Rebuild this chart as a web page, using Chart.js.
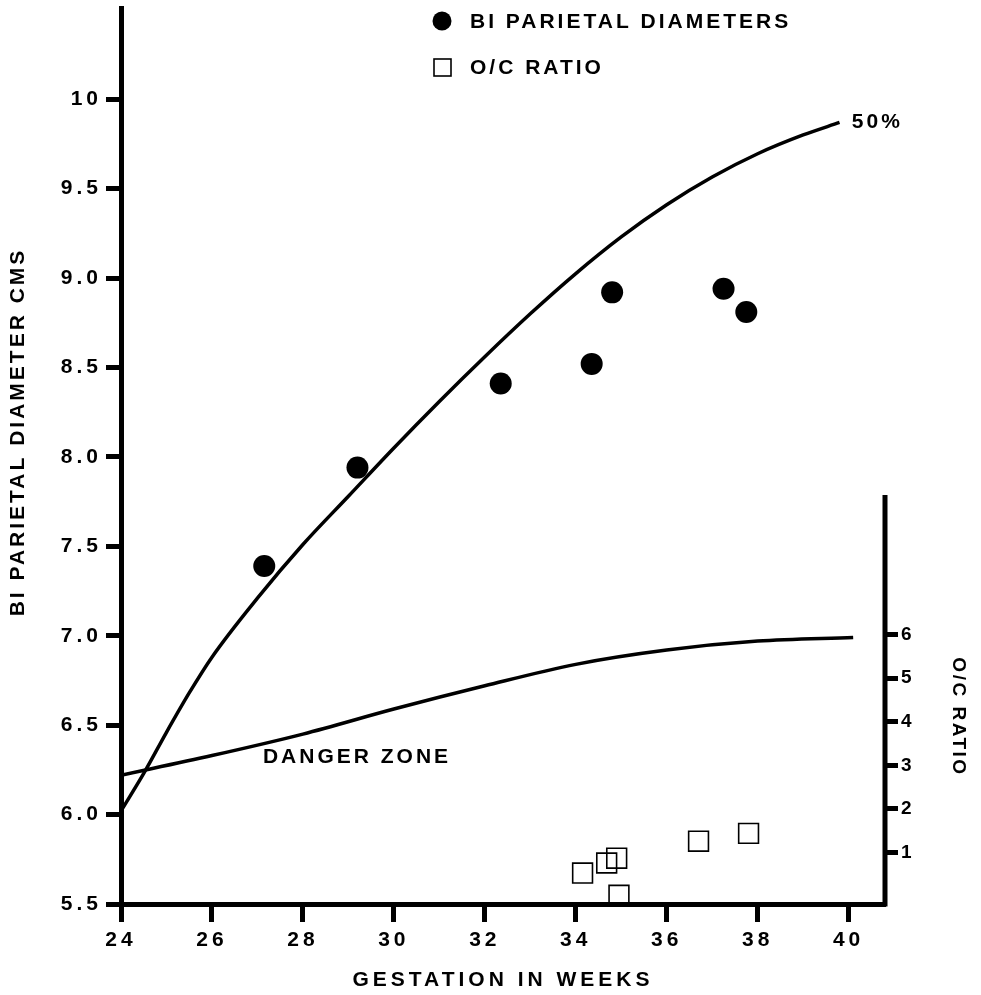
<!DOCTYPE html>
<html>
<head>
<meta charset="utf-8">
<script src="https://cdn.jsdelivr.net/npm/chart.js@4.4.1/dist/chart.umd.min.js"></script>
<style>
  html, body { margin: 0; padding: 0; background: #fff; }
  #wrap { width: 981px; height: 995px; }
</style>
</head>
<body>
<div id="wrap"><canvas id="chart"></canvas></div>
<script>
// tick labels
const xTicks = [24, 26, 28, 30, 32, 34, 36, 38, 40];
const yTicks = [5.5, 6.0, 6.5, 7.0, 7.5, 8.0, 8.5, 9.0, 9.5, 10];
const ocTicks = [1, 2, 3, 4, 5, 6];

// 50% bi parietal diameter curve
const curveWeeks = [24, 24.5, 25, 25.5, 26, 27, 28, 29, 30, 31, 32, 33, 34, 35, 36, 37, 38, 39, 39.8];
const curveBpd = [6.02, 6.23, 6.46, 6.68, 6.88, 7.21, 7.51, 7.78, 8.05, 8.31, 8.56, 8.80, 9.025, 9.23, 9.41, 9.565, 9.695, 9.80, 9.87];

// danger zone line
const dangerWeeks = [24, 26, 28, 30, 32, 34, 36, 38, 40.1];
const dangerBpd = [6.22, 6.33, 6.45, 6.59, 6.72, 6.84, 6.92, 6.97, 6.99];

// measured bi parietal diameters
const bpdWeeks = [27.15, 29.2, 32.35, 34.35, 34.8, 37.25, 37.75];
const bpdValues = [7.39, 7.94, 8.41, 8.52, 8.92, 8.94, 8.81];

// O/C ratio
const ocWeeks = [34.15, 34.68, 34.9, 34.95, 36.7, 37.8];
const ocValues = [0.53, 0.76, 0.87, 0.02, 1.26, 1.44];

const FONT = '"Liberation Sans", Arial, sans-serif';
const pts = (xs, ys) => xs.map((x, i) => ({ x: x, y: ys[i] }));
const fixTicks = list => scale => { scale.ticks = list.map(v => ({ value: v })); };

const extras = {
  id: 'extras',
  beforeDraw(chart) {
    chart.ctx.letterSpacing = '4px';
  },
  afterDraw(chart) {
    const { ctx, chartArea, scales } = chart;
    const { x, y, y2 } = scales;
    ctx.save();
    // short right hand O/C axis
    ctx.strokeStyle = '#000';
    ctx.lineWidth = 5;
    ctx.beginPath();
    ctx.moveTo(chartArea.right, chartArea.bottom + 2.5);
    ctx.lineTo(chartArea.right, y2.getPixelForValue(9.2));
    ctx.stroke();

    ctx.fillStyle = '#000';
    ctx.font = 'bold 21px ' + FONT;
    ctx.letterSpacing = '3px';
    ctx.textBaseline = 'middle';
    ctx.textAlign = 'left';
    ctx.fillText('50%', x.getPixelForValue(40.07), y.getPixelForValue(9.87));
    ctx.fillText('DANGER ZONE', x.getPixelForValue(27.12), y.getPixelForValue(6.32));

    // legend
    ctx.beginPath();
    ctx.arc(442, 21, 9.5, 0, Math.PI * 2);
    ctx.fill();
    ctx.fillText(chart.data.datasets[0].label, 470, 22);
    ctx.lineWidth = 1.6;
    ctx.strokeRect(434, 59, 17, 17);
    ctx.fillText(chart.data.datasets[1].label, 470, 68);

    // axis titles
    ctx.save();
    ctx.translate(18, 432);
    ctx.rotate(-Math.PI / 2);
    ctx.textAlign = 'center';
    ctx.fillText('BI PARIETAL DIAMETER CMS', 0, 0);
    ctx.restore();

    ctx.save();
    ctx.font = 'bold 19px ' + FONT;
    ctx.letterSpacing = '2.5px';
    ctx.translate(958, 717);
    ctx.rotate(Math.PI / 2);
    ctx.textAlign = 'center';
    ctx.fillText('O/C RATIO', 0, 0);
    ctx.restore();

    ctx.restore();
  }
};

const noPadV = s => { s.paddingTop = 0; s.paddingBottom = 0; };

new Chart(document.getElementById('chart'), {
  type: 'scatter',
  data: {
    datasets: [
      {
        label: 'BI PARIETAL DIAMETERS',
        data: pts(bpdWeeks, bpdValues),
        yAxisID: 'y',
        pointStyle: 'circle',
        pointRadius: 11,
        backgroundColor: '#000',
        borderColor: '#000',
        borderWidth: 0
      },
      {
        label: 'O/C RATIO',
        data: pts(ocWeeks, ocValues),
        yAxisID: 'y2',
        pointStyle: 'rect',
        pointRadius: 14,
        backgroundColor: 'rgba(0,0,0,0)',
        borderColor: '#000',
        borderWidth: 1.6
      },
      {
        type: 'line',
        label: '50%',
        data: pts(curveWeeks, curveBpd),
        yAxisID: 'y',
        borderColor: '#000',
        borderWidth: 3.5,
        pointRadius: 0,
        cubicInterpolationMode: 'monotone',
        fill: false
      },
      {
        type: 'line',
        label: 'DANGER ZONE',
        data: pts(dangerWeeks, dangerBpd),
        yAxisID: 'y',
        borderColor: '#000',
        borderWidth: 3.5,
        pointRadius: 0,
        cubicInterpolationMode: 'monotone',
        fill: false
      }
    ]
  },
  options: {
    responsive: true,
    maintainAspectRatio: false,
    animation: false,
    layout: { autoPadding: false, padding: { top: 8, left: 0, right: 0, bottom: 0 } },
    plugins: {
      legend: { display: false },
      tooltip: { enabled: false }
    },
    scales: {
      x: {
        type: 'linear',
        min: 24,
        max: 40.8,
        afterBuildTicks: fixTicks(xTicks),
        afterFit: s => { s.height = 91; s.paddingLeft = 0; s.paddingRight = 0; },
        grid: { drawOnChartArea: false, color: '#000', tickLength: 18, tickWidth: 5 },
        border: { color: '#000', width: 5, z: 1 },
        ticks: { color: '#000', padding: 6, font: { family: FONT, size: 21, weight: 'bold' } },
        title: {
          display: true,
          text: 'GESTATION IN WEEKS',
          color: '#000',
          font: { family: FONT, size: 21, weight: 'bold' },
          padding: { top: 0, bottom: 2 }
        }
      },
      y: {
        type: 'linear',
        position: 'left',
        min: 5.5,
        max: 10.51,
        afterBuildTicks: fixTicks(yTicks),
        afterFit: s => { s.width = 121; noPadV(s); },
        grid: { drawOnChartArea: false, color: '#000', tickLength: 15, tickWidth: 5 },
        border: { color: '#000', width: 5, z: 1 },
        ticks: {
          color: '#000',
          padding: 4,
          font: { family: FONT, size: 21, weight: 'bold' },
          callback: v => (v === 10 ? '10' : v.toFixed(1))
        }
      },
      y2: {
        type: 'linear',
        position: 'right',
        min: -0.18,
        max: 20.37,
        afterBuildTicks: fixTicks(ocTicks),
        afterFit: s => { s.width = 96; noPadV(s); },
        grid: { drawOnChartArea: false, color: '#000', tickLength: 13, tickWidth: 5 },
        border: { display: false },
        ticks: { color: '#000', padding: 3, font: { family: FONT, size: 19, weight: 'bold' } }
      }
    }
  },
  plugins: [extras]
});
</script>
</body>
</html>
